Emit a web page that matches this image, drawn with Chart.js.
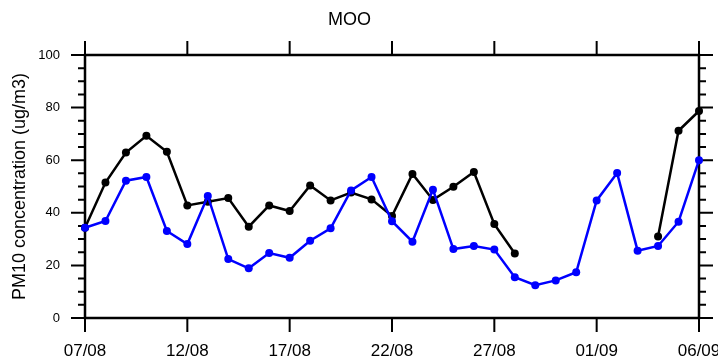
<!DOCTYPE html>
<html>
<head>
<meta charset="utf-8">
<script src="https://cdn.jsdelivr.net/npm/chart.js@4"></script>
<style>
  body { margin: 0; background: #fff; }
</style>
</head>
<body>
<canvas id="moo" width="718" height="360"></canvas>
<script>
const dates = [
  '07/08', '08/08', '09/08', '10/08', '11/08', '12/08', '13/08', '14/08',
  '15/08', '16/08', '17/08', '18/08', '19/08', '20/08', '21/08', '22/08',
  '23/08', '24/08', '25/08', '26/08', '27/08', '28/08', '29/08', '30/08',
  '31/08', '01/09', '02/09', '03/09', '04/09', '05/09', '06/09'
];
const blackSeries = [
  34.3, 51.5, 62.9, 69.3, 63.2, 42.8, 44.2, 45.6, 34.7, 42.8, 40.7,
  50.4, 44.7, 47.7, 45.1, 38.8, 54.8, 44.9, 49.9, 55.5, 35.7, 24.5,
  null, null, null, null, null, null, 31.0, 71.2, 78.7
];
const blueSeries = [
  34.3, 36.9, 52.2, 53.6, 33.1, 28.1, 46.4, 22.4, 18.9, 24.7, 22.9,
  29.4, 34.1, 48.5, 53.6, 36.8, 29.0, 48.8, 26.2, 27.4, 26.0, 15.5,
  12.5, 14.3, 17.4, 44.7, 55.1, 25.6, 27.4, 36.6, 60.0
];
const yTicks = [0, 20, 40, 60, 80, 100];

const font = 'Liberation Sans, Arial, Helvetica, sans-serif';

// frame and outward tick marks on all four sides
const framePlugin = {
  id: 'frame',
  beforeDatasetsDraw(chart) {
    const { ctx, chartArea, scales } = chart;
    const { left, right, top, bottom } = chartArea;
    ctx.save();
    ctx.strokeStyle = '#000';
    ctx.lineWidth = 2;
    ctx.beginPath();
    for (let v = 0; v <= 100; v += 5) {
      const py = scales.y.getPixelForValue(v);
      const len = v % 20 === 0 ? 14 : 7;
      ctx.moveTo(left - len, py);
      ctx.lineTo(left, py);
      ctx.moveTo(right, py);
      ctx.lineTo(right + len, py);
    }
    for (let i = 0; i < dates.length; i += 5) {
      const px = scales.x.getPixelForValue(i);
      ctx.moveTo(px, bottom);
      ctx.lineTo(px, bottom + 14);
      ctx.moveTo(px, top);
      ctx.lineTo(px, top - 14);
    }
    ctx.stroke();
    ctx.lineWidth = 2.5;
    ctx.strokeRect(left, top, right - left, bottom - top);
    ctx.restore();
  },
};

const canvas = document.getElementById('moo');

new Chart(canvas, {
  type: 'line',
  data: {
    labels: dates,
    datasets: [
      {
        data: blueSeries,
        borderColor: '#0000ff',
        backgroundColor: '#0000ff',
        borderWidth: 2.5,
        pointRadius: 4,
        pointBorderWidth: 0,
        clip: false,
      },
      {
        data: blackSeries,
        borderColor: '#000000',
        backgroundColor: '#000000',
        borderWidth: 2.5,
        pointRadius: 4,
        pointBorderWidth: 0,
        clip: false,
      },
    ],
  },
  options: {
    responsive: false,
    animation: false,
    layout: { padding: { right: 19 } },
    plugins: {
      legend: { display: false },
      tooltip: { enabled: false },
      title: {
        display: true,
        text: 'MOO',
        color: '#000',
        font: { family: font, size: 18, weight: 'normal' },
        padding: { top: 9, bottom: 24.4 },
      },
    },
    scales: {
      x: {
        grid: { display: false, drawTicks: false },
        border: { display: false },
        ticks: {
          autoSkip: false,
          maxRotation: 0,
          padding: 23,
          color: '#000',
          font: { family: font, size: 17 },
          callback: (val, i) => (i % 5 === 0 ? dates[i] : ''),
        },
        afterFit: (scale) => {
          scale.height = 42;
          scale.paddingLeft = 0;
          scale.paddingRight = 0;
        },
      },
      y: {
        min: 0,
        max: 100,
        grid: { display: false, drawTicks: false },
        border: { display: false },
        ticks: {
          stepSize: 20,
          padding: 25,
          color: '#000',
          font: { family: font, size: 13 },
          callback: (val) => (yTicks.includes(val) ? val : ''),
        },
        title: {
          display: true,
          text: 'PM10 concentration (ug/m3)',
          color: '#000',
          font: { family: font, size: 18 },
          padding: { top: 9, bottom: 0 },
        },
        afterFit: (scale) => {
          scale.width = 85;
          scale.paddingTop = 0;
          scale.paddingBottom = 0;
        },
      },
    },
  },
  plugins: [framePlugin],
});
</script>
</body>
</html>
